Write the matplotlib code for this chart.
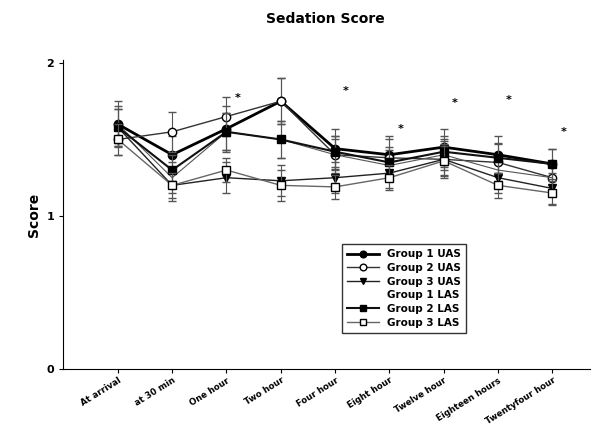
import numpy as np
import matplotlib.pyplot as plt

# time points
times = ["At arrival", "at 30 min", "One hour", "Two hour", "Four hour",
         "Eight hour", "Twelve hour", "Eighteen hours", "Twentyfour hour"]

# mean sedation scores
g1_uas = [1.60, 1.40, 1.57, 1.75, 1.44, 1.40, 1.45, 1.40, 1.34]
g2_uas = [1.50, 1.55, 1.65, 1.75, 1.40, 1.38, 1.37, 1.35, 1.25]
g3_uas = [1.58, 1.20, 1.25, 1.23, 1.25, 1.28, 1.37, 1.25, 1.18]
g1_las = [1.60, 1.25, 1.55, 1.50, 1.40, 1.33, 1.40, 1.30, 1.25]
g2_las = [1.58, 1.30, 1.55, 1.50, 1.42, 1.35, 1.42, 1.38, 1.34]
g3_las = [1.50, 1.20, 1.30, 1.20, 1.19, 1.25, 1.36, 1.20, 1.15]

# error bars (approx.)
g1_uas_err = [0.15, 0.12, 0.15, 0.15, 0.13, 0.12, 0.12, 0.12, 0.10]
g2_uas_err = [0.10, 0.13, 0.13, 0.15, 0.12, 0.12, 0.12, 0.12, 0.10]
g3_uas_err = [0.12, 0.10, 0.10, 0.10, 0.10, 0.10, 0.10, 0.10, 0.10]
g1_las_err = [0.12, 0.10, 0.12, 0.12, 0.10, 0.10, 0.10, 0.10, 0.10]
g2_las_err = [0.12, 0.10, 0.12, 0.12, 0.10, 0.10, 0.10, 0.10, 0.10]
g3_las_err = [0.10, 0.08, 0.08, 0.10, 0.08, 0.08, 0.10, 0.08, 0.08]

# significance marks above the curves
mark_idx = [2, 4, 5, 6, 7, 8]
mark_y = [1.77, 1.82, 1.57, 1.74, 1.76, 1.55]

x = np.arange(len(times))

fig = plt.figure(figsize=(5.97, 4.28), dpi=100)
ax = fig.add_axes([0.1055, 0.138, 0.8825, 0.722])

series = [
    ("Group 1 UAS", g1_uas, g1_uas_err, dict(marker='o', mfc='black', color='black', lw=2.0, ms=6)),
    ("Group 2 UAS", g2_uas, g2_uas_err, dict(marker='o', mfc='white', color='#333333', lw=1.0, ms=6)),
    ("Group 3 UAS", g3_uas, g3_uas_err, dict(marker='v', mfc='black', color='#222222', lw=1.0, ms=6)),
    ("Group 1 LAS", g1_las, g1_las_err, dict(marker='None', color='#555555', lw=0.8)),
    ("Group 2 LAS", g2_las, g2_las_err, dict(marker='s', mfc='black', color='#111111', lw=1.5, ms=6)),
    ("Group 3 LAS", g3_las, g3_las_err, dict(marker='s', mfc='white', color='#666666', lw=1.0, ms=6)),
]

order = [5, 3, 2, 4, 0, 1]
handles = {}
for i in order:
    name, y, err, st = series[i]
    h = ax.errorbar(x, y, yerr=err, label=name, capsize=3, elinewidth=0.8,
                    ecolor='#555555', mec='black', mew=1.0, zorder=3 + i, **st)
    handles[name] = h[0]

for i, yv in zip(mark_idx, mark_y):
    ax.text(x[i] + 0.2, yv, "*", fontsize=8, fontweight='bold', ha='center', va='center')

ax.set_xlim(-1.01, 8.69)
ax.set_ylim(0, 2.02)
ax.set_yticks([0, 1, 2])
ax.set_yticklabels(["0", "1", "2"], fontsize=8, fontweight='bold')
ax.set_xticks(x)
ax.set_xticklabels(times, rotation=32, ha='right', rotation_mode='anchor',
                   fontsize=6.2, fontweight='bold')
ax.set_ylabel("Score", fontsize=10, fontweight='bold')
ax.spines['top'].set_visible(False)
ax.spines['right'].set_visible(False)
ax.tick_params(length=3)
ax.tick_params(axis='x', pad=2)

fig.text(0.545, 0.955, "Sedation Score", ha='center', va='center',
         fontsize=10, fontweight='bold')

names = [s[0] for s in series]
leg = ax.legend([handles[n] for n in names], names, loc='lower left',
                bbox_to_anchor=(0.52, 0.10), fontsize=7.5, frameon=True,
                fancybox=False, edgecolor='black', handlelength=3,
                borderpad=0.5, labelspacing=0.35, markerscale=0.8)
for t in leg.get_texts():
    t.set_fontweight('bold')
leg.legend_handles[3].set_visible(False)

fig.savefig("out.png", dpi=100)
